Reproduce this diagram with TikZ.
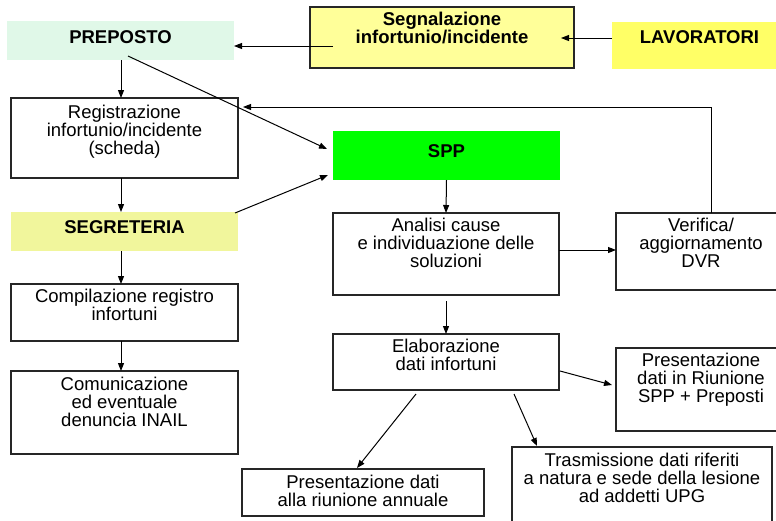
\documentclass[tikz,border=0pt]{standalone}
\usepackage{fontspec}
\setmainfont{Liberation Sans}
\usetikzlibrary{arrows.meta,calc}
\definecolor{cPrep}{HTML}{E0F8E8}
\definecolor{cSeg}{HTML}{FFFF99}
\definecolor{cLav}{HTML}{FFFF66}
\definecolor{cSpp}{HTML}{00FF00}
\definecolor{cSegr}{HTML}{F1F69C}
\newcommand{\bx}[4]{\parbox[c][#2pt][t]{#1pt}{\fontsize{18.5}{18}\selectfont\lineskiplimit=-20pt\centering\rule{0pt}{#3pt}#4}}
\begin{document}
\begin{tikzpicture}[x=1pt,y=-1pt,
 box/.style={draw=black!85, line width=1.2pt, inner sep=0pt, outer sep=0pt},
 fbox/.style={inner sep=0pt, outer sep=0pt, font=\bfseries},
 conn/.style={line width=1pt, -{Triangle[length=8pt,width=6pt]}}]
\useasboundingbox (0,0) rectangle (776,520);
\clip (0,0) rectangle (776,520);
\node[fbox, fill=cPrep] (prep) at (120.5,40.5) {\bx{227}{39}{22.3}{PREPOSTO}};
\node[box, fill=cSeg, font=\bfseries] (seg) at (442,37.5) {\bx{264}{61}{18}{Segnalazione\\infortunio/incidente}};
\node[fbox, fill=cLav] (lav) at (699.5,45.5) {\bx{175}{47}{21.3}{LAVORATORI}};
\node[box] (reg) at (124.5,138) {\bx{227}{80}{20}{Registrazione\\infortunio/incidente\\(scheda)}};
\node[fbox, fill=cSpp] (spp) at (446.5,155.5) {\bx{227}{49}{26.3}{SPP}};
\node[fbox, fill=cSegr] (segr) at (124.5,231.5) {\bx{227}{39}{21.3}{SEGRETERIA}};
\node[box] (comp) at (124.5,312.5) {\bx{227}{57}{18.7}{Compilazione registro\\infortuni}};
\node[box] (comu) at (124.5,412.5) {\bx{227}{83}{19}{Comunicazione\\ed eventuale\\denuncia INAIL}};
\node[box] (anal) at (446,254) {\bx{226}{82}{18}{Analisi cause\\e individuazione delle\\soluzioni}};
\node[box] (ver) at (701,251.5) {\bx{170}{77}{18.7}{Verifica/\\aggiornamento\\DVR}};
\node[box] (elab) at (446,362) {\bx{226}{56}{18.3}{Elaborazione\\dati infortuni}};
\node[box] (pres) at (701,389.5) {\bx{170}{83}{18.7}{Presentazione\\dati in Riunione\\SPP + Preposti}};
\node[box] (ann) at (363,492.5) {\bx{242}{47}{19.3}{Presentazione dati\\alla riunione annuale}};
\node[box] (tras) at (642,488.5) {\bx{260}{83}{19}{Trasmissione dati riferiti\\a natura e sede della lesione\\ad addetti UPG}};
\coordinate (colL) at (121,0);
\draw[conn] (lav.west |- 0,38) -- ($(seg.east |- 0,38)+(-13,0)$);
\draw[conn] ($(seg.west |- 0,46)+(23,0)$) -- (prep.east |- 0,46);
\draw[conn] (prep.south -| colL) -- (reg.north -| colL);
\draw[conn] ($(prep.south)+(7.5,-4)$) -- ($(spp.west)+(-6,-6.5)$);
\draw[conn] (reg.south -| colL) -- (segr.north -| colL);
\draw[conn] ($(segr.north east)+(-3,1)$) -- ($(spp.west)+(-5,19.5)$);
\draw[conn] (segr.south -| colL) -- (comp.north -| colL);
\draw[conn] (comp.south -| colL) -- (comu.north -| colL);
\draw[conn] (spp.south) -- (anal.north);
\draw[conn] (anal.east |- 0,250) -- (ver.west |- 0,250);
\draw[conn] ($(anal.south)+(0,6)$) -- (elab.north);
\draw[conn] (ver.north -| 711,0) |- ($(reg.east |- 0,107)+(5,0)$);
\draw[conn] ($(elab.east)+(1,9)$) -- ($(pres.west)+(-4,-4.5)$);
\draw[conn] ($(elab.south)+(-30,4)$) -- ($(ann.north)+(-6,-1)$);
\draw[conn] ($(elab.south)+(68,4)$) -- ($(tras.north west)+(25,-1)$);
\end{tikzpicture}
\end{document}
